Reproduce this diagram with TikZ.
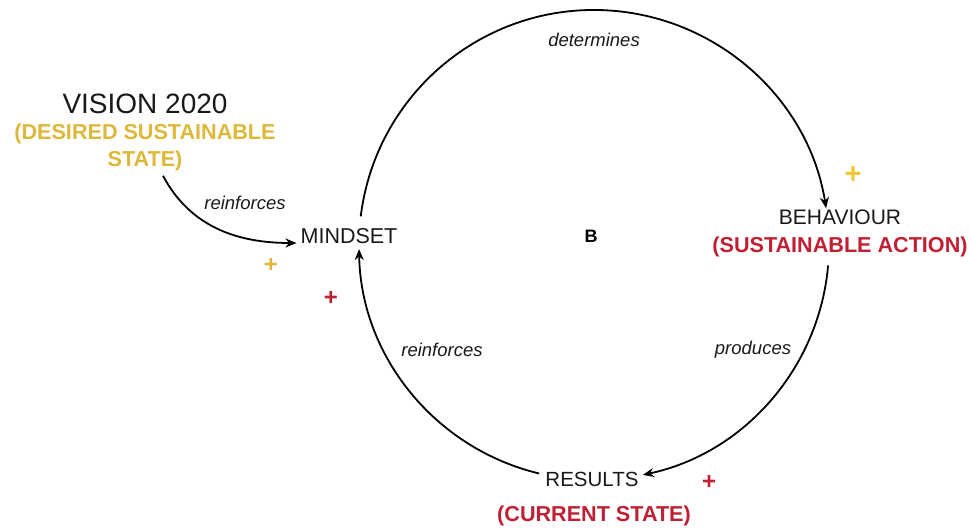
\documentclass[tikz,border=0pt]{standalone}
\usepackage{fontspec}
\setmainfont{Liberation Sans}
\usetikzlibrary{arrows.meta,calc}
\definecolor{gold}{RGB}{222,184,58}
\definecolor{brightgold}{RGB}{240,200,50}
\definecolor{loopred}{RGB}{192,32,52}
\definecolor{ink}{RGB}{25,25,25}
\tikzset{
  fs/.style={font=\fontsize{#1}{#1}\selectfont},
  label/.style={text=ink, inner sep=1pt},
  emph/.style={font=\bfseries\fontsize{21.6}{27}\selectfont, inner sep=1pt},
  verb/.style={text=ink, font=\itshape\fontsize{18.5}{20}\selectfont, inner sep=1pt},
  sign/.style={font=\bfseries\fontsize{#1}{#1}\selectfont, inner sep=0pt},
  link/.style={line width=1.8pt, -{Stealth[length=11pt,width=9pt]}},
}
\begin{document}
\begin{tikzpicture}[x=1pt,y=1pt]
\useasboundingbox (0,0) rectangle (971,529);

% loop centre and radius
\coordinate (c) at (594,284);
\def\R{235}

% text nodes
\node[label, fs=28] (vision) at (145,425) {VISION 2020};
\node[emph, text=gold, align=center] (desired) at (145,382) {(DESIRED SUSTAINABLE\\STATE)};
\node[label, fs=21.5] (mindset) at (349,293) {MINDSET};
\node[label, fs=21] (behaviour) at (840,312) {BEHAVIOUR};
\node[emph, text=loopred] (action) at (840,282) {(SUSTAINABLE ACTION)};
\node[label, fs=20.5] (results) at (592,50) {RESULTS};
\node[emph, text=loopred] (current) at (594,13) {(CURRENT STATE)};
\node[font=\bfseries\fontsize{18}{18}\selectfont] (b) at (591,293) {B};

% polarity signs
\node[sign=29, text=brightgold] (p1) at (853,354) {+};
\node[sign=24, text=gold] (p2) at (271,264) {+};
\node[sign=24, text=loopred] (p3) at (331,231) {+};
\node[sign=24, text=loopred] (p4) at (709,47) {+};

% arc end points on the loop
\coordinate (m1) at ($(c)+(173:\R)$);
\coordinate (b1) at ($(c)+(-5:\R)$);
\coordinate (r1) at ($(c)+(256.5:\R)$);

% loop connectors
\draw[link] (m1) arc[start angle=173, end angle=9, radius=\R] coordinate (b0);
\draw[link] (b1) arc[start angle=-5, end angle=-78, radius=\R] coordinate (r0);
\draw[link] (r1) arc[start angle=256.5, end angle=181, radius=\R] coordinate (m0);

% vision reinforces mindset
\coordinate (v0) at ($(desired.south)+(18,-4)$);
\coordinate (m2) at ($(mindset.west)+(-3,-7)$);
\draw[link] (v0) to[out=-62, in=180] (m2);

% connector labels
\node[verb] (l1) at (594,489) {determines};
\node[verb] (l2) at (245,326) {reinforces};
\node[verb] (l3) at (442,179) {reinforces};
\node[verb] (l4) at (753,179) {produces};
\end{tikzpicture}
\end{document}
